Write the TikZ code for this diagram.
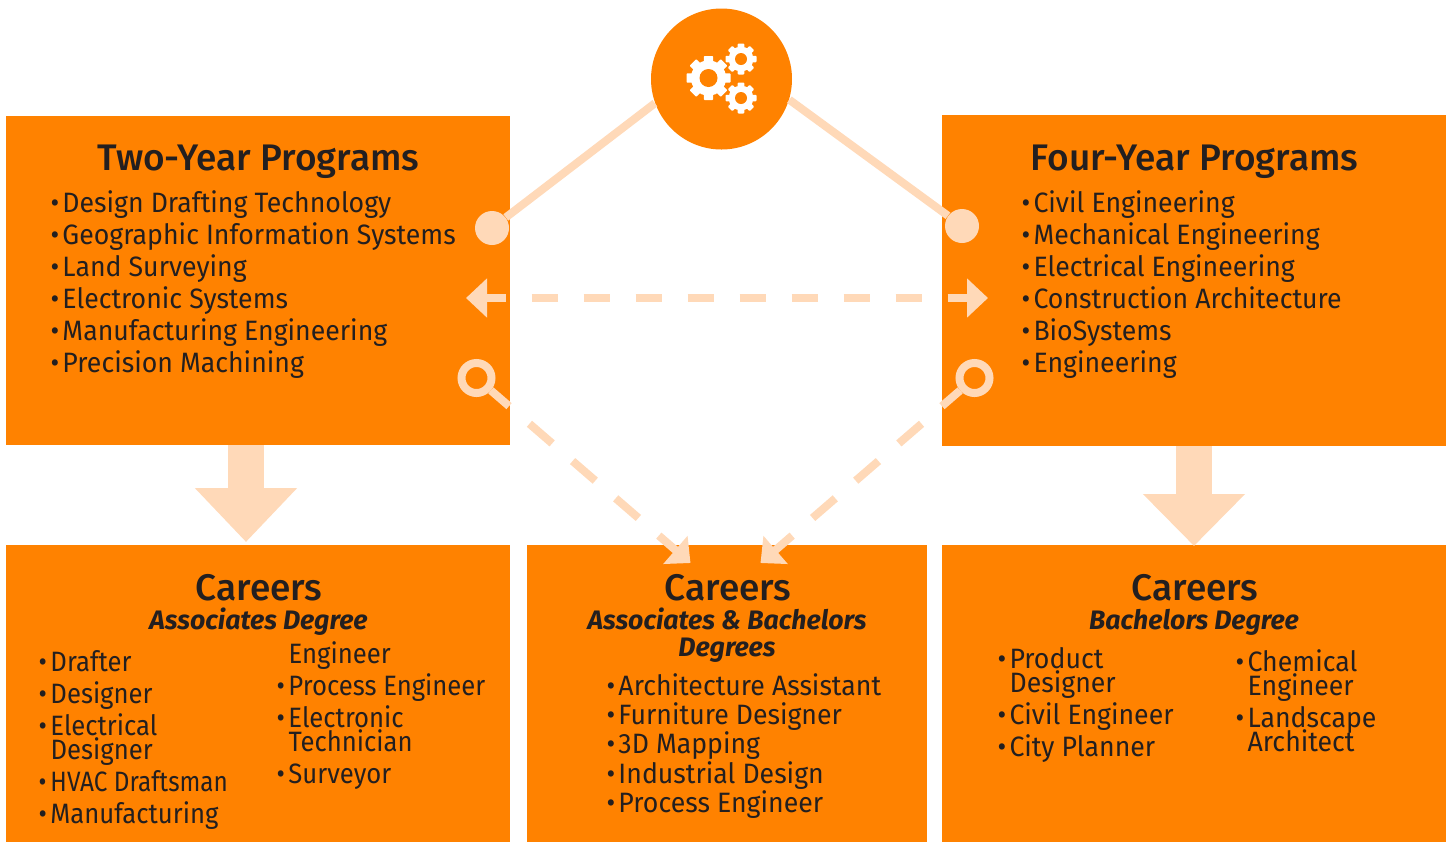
\documentclass[tikz,border=0pt]{standalone}
\usepackage{fontspec}
\usetikzlibrary{arrows.meta,shapes.geometric}
\setmainfont{Fira Sans}
\newfontfamily\titlefont{Fira Sans Medium}
\newfontfamily\rowwide[FakeStretch=0.953]{Fira Sans}
\newfontfamily\rownarrow[FakeStretch=0.917]{Fira Sans}
\newfontfamily\rowtightest[FakeStretch=0.868]{Fira Sans}
\definecolor{boxorange}{RGB}{255,130,0}
\definecolor{peach}{RGB}{255,217,184}
\definecolor{inkdark}{RGB}{35,31,32}
\newcommand{\listrow}[1]{\makebox[5.9pt][l]{•}#1}
\newcommand{\gearat}[4]{% x,y,outer,hole
  \begin{scope}[shift={(#1,#2)}]
    \fill[white] (0,0) circle[radius={#3*0.8}];
    \foreach \a in {0,45,...,315}{
      \fill[white,rounded corners=0.4pt,rotate=\a] ({-#3*0.21},{#3*0.6}) rectangle ({#3*0.21},{#3});
    }
    \fill[boxorange] (0,0) circle[radius=#4];
  \end{scope}}
\tikzset{
  panel/.style={fill=boxorange,draw=none,anchor=north west,inner sep=0pt,outer sep=0pt},
  heading/.style={anchor=base,inner sep=0pt,text=inkdark,font=\titlefont\fontsize{18.5}{20}\selectfont},
  subheading/.style={anchor=base,inner sep=0pt,text=inkdark,font=\bfseries\itshape\fontsize{13.35}{15}\selectfont},
  rowtext/.style={anchor=base west,inner sep=0pt,xshift=-0.35pt,text=inkdark,font=\rowwide\fontsize{14}{16}\selectfont},
  rowslim/.style={anchor=base west,inner sep=0pt,xshift=-0.35pt,text=inkdark,font=\rownarrow\fontsize{14}{16}\selectfont},
  rowslimmest/.style={anchor=base west,inner sep=0pt,xshift=-0.35pt,text=inkdark,font=\rowtightest\fontsize{14}{16}\selectfont},
  link/.style={draw=peach,line width=4pt},
  dashlink/.style={link,dash pattern=on 15pt off 13.5pt,dash phase=3pt,-{Triangle[length=10pt,width=18pt,fill=peach]}},
  dashflat/.style={link,dash pattern=on 13pt off 13pt,dash phase=3pt,{Triangle[length=10.5pt,width=19pt,fill=peach]}-{Triangle[length=10.5pt,width=19pt,fill=peach]}},
  bigarrow/.style={draw=peach,line width=18pt,-{Triangle[length=27pt,width=49.5pt,fill=peach]}},
  bigarrowshort/.style={draw=peach,line width=18pt,-{Triangle[length=26pt,width=49.5pt,fill=peach]}},
  dotend/.style={circle,fill=peach,inner sep=0pt,minimum size=17pt},
  ringend/.style={circle,draw=peach,line width=4pt,inner sep=0pt,minimum size=15pt},
}
\begin{document}
\begin{tikzpicture}[x=0.5pt,y=-0.5pt]
\useasboundingbox[fill=white] (0,0) rectangle (1448,842);
% panels
\node[panel,minimum width=252pt,minimum height=164.5pt] (twoyear) at (6,116) {};
\node[panel,minimum width=252pt,minimum height=165.5pt] (fouryear) at (942,115) {};
\node[panel,minimum width=252pt,minimum height=148.5pt] (carA) at (6,545) {};
\node[panel,minimum width=200pt,minimum height=148.5pt] (carB) at (527,545) {};
\node[panel,minimum width=252pt,minimum height=148.5pt] (carC) at (942,545) {};
% hub and ends
\node[circle,fill=boxorange,inner sep=0pt,minimum size=70.5pt] (hub) at (721.5,79) {};
\node[dotend] (dotL) at (492,228) {};
\node[dotend] (dotR) at (962,226) {};
\node[ringend] (ringL) at (476.5,378) {};
\node[ringend] (ringR) at (974.5,378) {};
\coordinate (tipL) at (690.5,563);
\coordinate (tipR) at (760.5,563);
\coordinate (flatL) at (466,298);
\coordinate (flatR) at (988,298);
\coordinate (bigAs) at (246,445);
\coordinate (bigAe) at (246,542);
\coordinate (bigCs) at (1194,446);
\coordinate (bigCe) at (1194,546);
% connectors
\draw[link] (hub.200) -- (dotL);
\draw[link] (hub.-17) -- (dotR);
\draw[dashlink] (ringL) -- (tipL);
\draw[dashlink] (ringR) -- (tipR);
\draw[dashflat] (flatL) -- (flatR);
\draw[bigarrow] (bigAs) -- (bigAe);
\draw[bigarrowshort] (bigCs) -- (bigCe);
% gears
\gearat{708.5}{78}{22}{9}
\gearat{741}{59}{15.5}{6}
\gearat{741}{98}{15.5}{6}
% two-year
\node[heading] (t1) at (258.5,170) {Two-Year Programs};
\node[rowtext] (t1a) at (51,212) {\listrow{Design Drafting Technology}};
\node[rowtext] (t1b) at (51,244) {\listrow{Geographic Information Systems}};
\node[rowtext] (t1c) at (51,276) {\listrow{Land Surveying}};
\node[rowtext] (t1d) at (51,308) {\listrow{Electronic Systems}};
\node[rowtext] (t1e) at (51,340) {\listrow{Manufacturing Engineering}};
\node[rowtext] (t1f) at (51,372) {\listrow{Precision Machining}};
% four-year
\node[heading] (t2) at (1194.5,170) {Four-Year Programs};
\node[rowtext] (t2a) at (1022,212) {\listrow{Civil Engineering}};
\node[rowtext] (t2b) at (1022,244) {\listrow{Mechanical Engineering}};
\node[rowtext] (t2c) at (1022,276) {\listrow{Electrical Engineering}};
\node[rowtext] (t2d) at (1022,308) {\listrow{Construction Architecture}};
\node[rowtext] (t2e) at (1022,340) {\listrow{BioSystems}};
\node[rowtext] (t2f) at (1022,372) {\listrow{Engineering}};
% careers A
\node[heading] (c1) at (259,600) {Careers};
\node[subheading] (c1s) at (258.5,629) {Associates Degree};
\node[rowslim] (c1a) at (39,671) {\listrow{Drafter}};
\node[rowslim] (c1b) at (39,703) {\listrow{Designer}};
\node[rowslim] (c1c) at (39,735) {\listrow{Electrical}};
\node[rowslim] (c1d) at (51,759) {Designer};
\node[rowslimmest] (c1e) at (39,791) {\listrow{HVAC Draftsman}};
\node[rowslim] (c1f) at (39,823) {\listrow{Manufacturing}};
\node[rowslim] (c1g) at (289,663) {Engineer};
\node[rowslim] (c1h) at (277,695) {\listrow{Process Engineer}};
\node[rowslim] (c1i) at (277,727) {\listrow{Electronic}};
\node[rowslim] (c1j) at (289,751) {Technician};
\node[rowslim] (c1k) at (277,783) {\listrow{Surveyor}};
% careers B
\node[heading] (c2) at (728,600) {Careers};
\node[subheading] (c2s) at (727,629) {Associates \& Bachelors};
\node[subheading] (c2t) at (727,656) {Degrees};
\node[rowtext] (c2a) at (607,695) {\listrow{Architecture Assistant}};
\node[rowtext] (c2b) at (607,724) {\listrow{Furniture Designer}};
\node[rowtext] (c2c) at (607,753) {\listrow{3D Mapping}};
\node[rowtext] (c2d) at (607,783) {\listrow{Industrial Design}};
\node[rowtext] (c2e) at (607,812) {\listrow{Process Engineer}};
% careers C
\node[heading] (c3) at (1195,600) {Careers};
\node[subheading] (c3s) at (1194,629) {Bachelors Degree};
\node[rowtext] (c3a) at (998,668) {\listrow{Product}};
\node[rowtext] (c3b) at (1010,692) {Designer};
\node[rowtext] (c3c) at (998,724) {\listrow{Civil Engineer}};
\node[rowtext] (c3d) at (998,756) {\listrow{City Planner}};
\node[rowtext] (c3e) at (1236,671) {\listrow{Chemical}};
\node[rowtext] (c3f) at (1248,695) {Engineer};
\node[rowtext] (c3g) at (1236,727) {\listrow{Landscape}};
\node[rowtext] (c3h) at (1248,751) {Architect};
\end{tikzpicture}
\end{document}
